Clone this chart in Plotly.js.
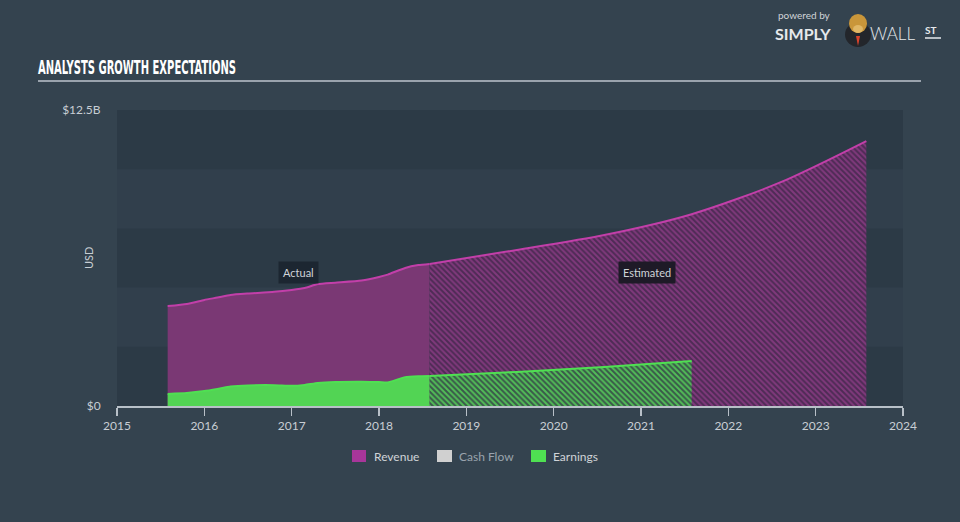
<!DOCTYPE html>
<html>
<head>
<meta charset="utf-8">
<script src="https://cdn.plot.ly/plotly-3.0.1.min.js"></script>
<style>
html,body{margin:0;padding:0;background:#34434f;}
#chart{width:960px;height:522px;}
</style>
</head>
<body>
<div id="chart"></div>
<script>
// ---- data ----
const actualYears = [2015.58, 2015.8, 2016.0, 2016.15, 2016.3, 2016.5, 2016.8, 2017.0, 2017.15, 2017.3, 2017.5, 2017.8, 2018.0, 2018.1, 2018.3, 2018.45, 2018.58];
const revenueActual = [4.22, 4.31, 4.48, 4.58, 4.69, 4.75, 4.82, 4.90, 4.98, 5.15, 5.21, 5.30, 5.45, 5.55, 5.83, 5.95, 6.00];
const earningsActual = [0.51, 0.55, 0.63, 0.72, 0.82, 0.87, 0.88, 0.85, 0.89, 0.97, 1.01, 1.02, 1.01, 0.99, 1.22, 1.26, 1.27];

const revenueEstYears = [2018.58, 2019.58, 2020.58, 2021.58, 2022.58, 2023.58];
const revenueEst = [6.00, 6.59, 7.22, 8.10, 9.42, 11.19];
const earningsEstYears = [2018.58, 2019.58, 2020.58, 2021.58];
const earningsEst = [1.27, 1.44, 1.65, 1.90];

const xTicks = [2015, 2016, 2017, 2018, 2019, 2020, 2021, 2022, 2023, 2024];
const yTickVals = [0, 12.5];
const yTickText = ['$0', '$12.5B'];
const legendItems = ['Revenue', 'Cash Flow', 'Earnings'];
const titleText = 'ANALYSTS GROWTH EXPECTATIONS';

// ---- styles ----
const C = {
  paper: '#34434f', plot: '#313f4c', band: '#2c3a46',
  revLine: '#c23fa9', revFill: '#7a3874',
  earnLine: '#4fe052', earnFill: '#52d454',
  cash: '#d0d0d0', text: '#c8ced4', axis: '#b8c0c8'
};
const FONT = 'Lato, "Open Sans", sans-serif';

const traces = [
  { x: actualYears, y: revenueActual, type: 'scatter', mode: 'lines',
    line: {color: C.revLine, width: 2, shape: 'spline', smoothing: 0.5},
    fill: 'tozeroy', fillcolor: C.revFill, hoverinfo: 'skip', showlegend: false },
  { x: revenueEstYears, y: revenueEst, type: 'scatter', mode: 'lines',
    line: {color: C.revLine, width: 2, shape: 'spline', smoothing: 0.8},
    fill: 'tozeroy',
    fillpattern: {shape: '\\', bgcolor: '#4e2b55', fgcolor: '#80397c', size: 4, solidity: 0.5},
    hoverinfo: 'skip', showlegend: false },
  { x: actualYears, y: earningsActual, type: 'scatter', mode: 'lines',
    line: {color: C.earnLine, width: 2, shape: 'spline', smoothing: 0.5},
    fill: 'tozeroy', fillcolor: C.earnFill, hoverinfo: 'skip', showlegend: false },
  { x: earningsEstYears, y: earningsEst, type: 'scatter', mode: 'lines',
    line: {color: C.earnLine, width: 2, shape: 'spline', smoothing: 0.8},
    fill: 'tozeroy',
    fillpattern: {shape: '\\', bgcolor: '#3a584a', fgcolor: '#52bd57', size: 4, solidity: 0.5},
    hoverinfo: 'skip', showlegend: false }
];

// pixel -> paper helpers (plot area: x 117..903, y 110..406)
const px = v => (v - 117) / 786;
const py = v => (406 - v) / 296;

const shapes = [
  {type: 'rect', xref: 'paper', yref: 'y', x0: 0, x1: 1, y0: 0, y1: 2.5, fillcolor: C.band, line: {width: 0}, layer: 'below'},
  {type: 'rect', xref: 'paper', yref: 'y', x0: 0, x1: 1, y0: 5, y1: 7.5, fillcolor: C.band, line: {width: 0}, layer: 'below'},
  {type: 'rect', xref: 'paper', yref: 'y', x0: 0, x1: 1, y0: 10, y1: 12.5, fillcolor: C.band, line: {width: 0}, layer: 'below'},
  // title underline
  {type: 'line', xref: 'paper', yref: 'paper', x0: px(38), x1: px(921), y0: py(81), y1: py(81), line: {color: '#9aa3ad', width: 2}},
  // legend swatches
  {type: 'rect', xref: 'paper', yref: 'paper', x0: px(352), x1: px(366), y0: py(450), y1: py(462), fillcolor: '#a8369a', line: {width: 0}},
  {type: 'rect', xref: 'paper', yref: 'paper', x0: px(437), x1: px(452), y0: py(450), y1: py(462), fillcolor: C.cash, line: {width: 0}},
  {type: 'rect', xref: 'paper', yref: 'paper', x0: px(531), x1: px(546), y0: py(450), y1: py(462), fillcolor: C.earnLine, line: {width: 0}},
  // logo badge
  {type: 'circle', xref: 'paper', yref: 'paper', x0: px(845), x1: px(871), y0: py(47), y1: py(22), fillcolor: '#23262b', line: {width: 0}},
  {type: 'path', xref: 'paper', yref: 'paper',
   path: 'M ' + px(856) + ' ' + py(36) + ' L ' + px(860) + ' ' + py(36) + ' L ' + px(858) + ' ' + py(46) + ' Z', fillcolor: '#d9432b', line: {width: 0}},
  {type: 'circle', xref: 'paper', yref: 'paper', x0: px(849), x1: px(867), y0: py(33), y1: py(14), fillcolor: '#c9963a', line: {width: 0}},
  {type: 'circle', xref: 'paper', yref: 'paper', x0: px(853), x1: px(863), y0: py(33), y1: py(25), fillcolor: '#e0b766', line: {width: 0}},
  {type: 'line', xref: 'paper', yref: 'paper', x0: px(925), x1: px(941), y0: py(38), y1: py(38), line: {color: '#e6e9ec', width: 1.5}}
];

const annotations = [
  {text: titleText, xref: 'paper', yref: 'paper', x: px(38), y: py(67), xanchor: 'left', yanchor: 'middle', showarrow: false,
   font: {family: '"DejaVu Sans Condensed", "DejaVu Sans", sans-serif', size: 19, color: '#ffffff', weight: 700}},
  {text: 'Actual', x: 2017.08, y: (406 - 272) / 23.68, xref: 'x', yref: 'y', showarrow: false, yanchor: 'middle',
   bgcolor: '#1c2631', borderpad: 4, font: {family: FONT, size: 11, color: '#d0d4d8'}},
  {text: 'Estimated', x: 2021.07, y: (406 - 272) / 23.68, xref: 'x', yref: 'y', showarrow: false, yanchor: 'middle',
   bgcolor: '#1e1a27', borderpad: 4, font: {family: FONT, size: 11, color: '#d0d4d8'}},
  {text: 'USD', xref: 'paper', yref: 'paper', x: px(88), y: py(258), textangle: -90, showarrow: false,
   xanchor: 'center', yanchor: 'middle', font: {family: FONT, size: 11, color: C.text}},
  {text: legendItems[0], xref: 'paper', yref: 'paper', x: px(372), y: py(456), xanchor: 'left', yanchor: 'middle', showarrow: false,
   font: {family: FONT, size: 12, color: '#d0d4d8'}},
  {text: legendItems[1], xref: 'paper', yref: 'paper', x: px(457), y: py(456), xanchor: 'left', yanchor: 'middle', showarrow: false,
   font: {family: FONT, size: 12, color: '#9aa3ad'}},
  {text: legendItems[2], xref: 'paper', yref: 'paper', x: px(551), y: py(456), xanchor: 'left', yanchor: 'middle', showarrow: false,
   font: {family: FONT, size: 12, color: '#d0d4d8'}},
  // logo
  {text: 'powered by', xref: 'paper', yref: 'paper', x: px(777), y: py(15), xanchor: 'left', yanchor: 'middle', showarrow: false,
   borderpad: 0, font: {family: FONT, size: 10, color: '#d0d4d8'}},
  {text: '<b>SIMPLY</b>', xref: 'paper', yref: 'paper', x: px(774), y: py(34), xanchor: 'left', yanchor: 'middle', showarrow: false,
   borderpad: 0, font: {family: FONT, size: 16, color: '#e6e9ec'}},
  {text: 'WALL', xref: 'paper', yref: 'paper', x: px(869), y: py(34), xanchor: 'left', yanchor: 'middle', showarrow: false,
   borderpad: 0, font: {family: 'Lato, sans-serif', size: 17, color: '#e6e9ec', weight: 300}},
  {text: '<b>ST</b>', xref: 'paper', yref: 'paper', x: px(924), y: py(30), xanchor: 'left', yanchor: 'middle', showarrow: false,
   borderpad: 0, font: {family: FONT, size: 10, color: '#e6e9ec'}}
];

const layout = {
  width: 960, height: 522,
  paper_bgcolor: C.paper, plot_bgcolor: C.plot,
  margin: {l: 117, r: 57, t: 110, b: 116},
  showlegend: false,
  xaxis: {
    range: [2015, 2024], tickvals: xTicks, ticktext: xTicks.map(String),
    showgrid: false, zeroline: false, showline: true, linecolor: C.axis, linewidth: 1.5,
    ticks: 'outside', ticklen: 8, tickcolor: C.axis, tickwidth: 1.2,
    tickfont: {family: FONT, size: 12, color: C.text}, fixedrange: true
  },
  yaxis: {
    range: [0, 12.5], tickvals: yTickVals, ticktext: yTickText,
    showgrid: false, zeroline: false, showline: false,
    ticks: 'outside', ticklen: 13, tickcolor: 'rgba(0,0,0,0)',
    tickfont: {family: FONT, size: 12, color: C.text}, fixedrange: true
  },
  shapes: shapes,
  annotations: annotations
};

// condense a text annotation to a given pixel width, keeping its left edge
function squeeze(txt, left, width) {
  const el = Array.from(document.querySelectorAll('.annotation-text')).find(e => e.textContent === txt);
  if (!el) return;
  el.setAttribute('textLength', width);
  el.setAttribute('lengthAdjust', 'spacingAndGlyphs');
  const r = el.getBoundingClientRect();
  const x0 = parseFloat(el.getAttribute('x') || '0');
  el.setAttribute('x', x0 + (left - r.left));
}

Plotly.newPlot('chart', traces, layout, {staticPlot: true, displayModeBar: false}).then(() => {
  squeeze(titleText, 38, 198);
});
</script>
</body>
</html>
